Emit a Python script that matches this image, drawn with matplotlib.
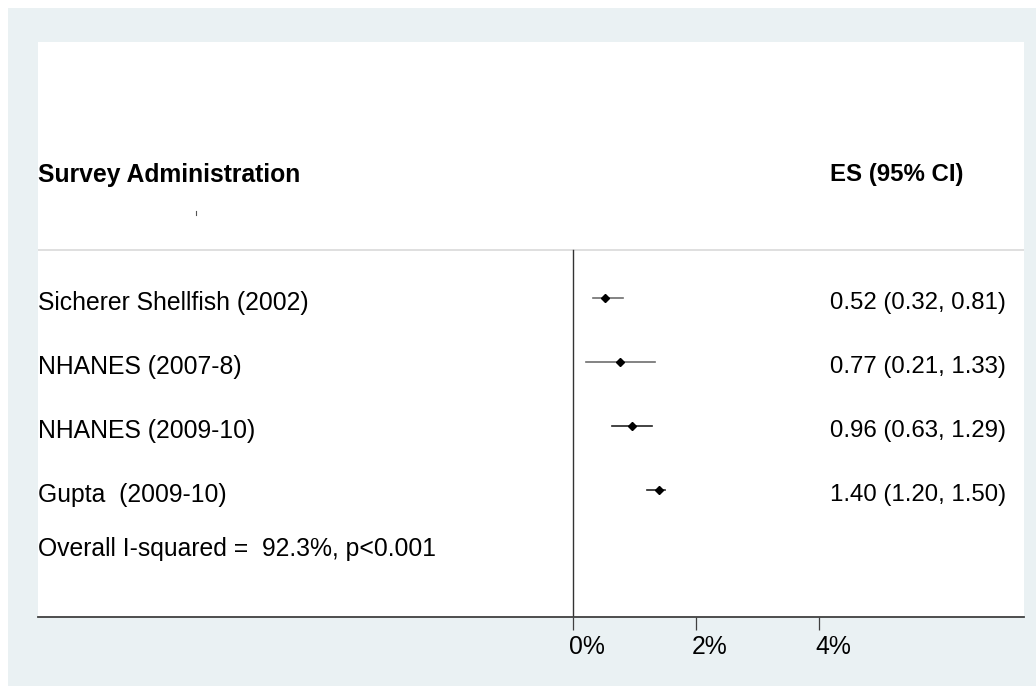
import matplotlib
matplotlib.use("Agg")
import matplotlib.pyplot as plt
from matplotlib.patches import Rectangle
from matplotlib.transforms import ScaledTranslation

studies = ["Sicherer Shellfish (2002)", "NHANES (2007-8)", "NHANES (2009-10)", "Gupta  (2009-10)"]
es = [0.52, 0.77, 0.96, 1.40]
lo = [0.32, 0.21, 0.63, 1.20]
hi = [0.81, 1.33, 1.29, 1.50]
ci_labels = ["0.52 (0.32, 0.81)", "0.77 (0.21, 1.33)", "0.96 (0.63, 1.29)", "1.40 (1.20, 1.50)"]
overall_text = "Overall I-squared =  92.3%, p<0.001"
xticks = [0, 2, 4]
xticklabels = ["0%", "2%", "4%"]

W, H = 1036, 686
fig = plt.figure(figsize=(W / 100, H / 100), dpi=100)
fig.patch.set_facecolor("white")
bg = "#EAF1F3"
fig.add_artist(Rectangle((8 / W, 0), 1 - 8 / W, 1 - 8 / H, transform=fig.transFigure,
                         facecolor=bg, edgecolor="none", zorder=0))

ax_left, ax_right, ax_top, ax_bot = 38, 1024, 42, 617
ax = fig.add_axes([ax_left / W, 1 - ax_bot / H, (ax_right - ax_left) / W, (ax_bot - ax_top) / H])
ax.set_facecolor("white")
ax.set_zorder(1)

px_per_unit = 61.5
x0 = 573
ax.set_xlim((ax_left - x0) / px_per_unit, (ax_right - x0) / px_per_unit)
row_px = 64
y0 = 298
ax.set_ylim((ax_bot - y0) / row_px, (ax_top - y0) / row_px)

fs = 17.8
fs_r = 17.3
font = "Liberation Sans"
for s in ["top", "right", "left"]:
    ax.spines[s].set_visible(False)
ax.spines["bottom"].set_color("#404040")
ax.spines["bottom"].set_linewidth(1.3)
ax.set_yticks([])
ax.set_xticks(xticks)
ax.set_xticklabels(xticklabels, fontsize=fs, family=font, ha="left")
ax.tick_params(axis="x", length=9, width=0.9, color="#404040", pad=4)
offset = ScaledTranslation(-4 / 100, 0, fig.dpi_scale_trans)
for lbl in ax.get_xticklabels():
    lbl.set_transform(lbl.get_transform() + offset)

ybot = (ax_bot - y0) / row_px
ax.axhline(-0.75, color="#D9D9D9", lw=1.2)
ax.plot([0, 0], [-0.75, ybot], color="#333333", lw=1.0)
ax.plot([(196 - x0) / px_per_unit] * 2, [(211 - y0) / row_px, (215 - y0) / row_px], color="#555555", lw=0.8)

xl = (ax_left - x0) / px_per_unit
xr = (830 - x0) / px_per_unit
ax.text(xl, (175 - y0) / row_px, "Survey Administration", fontsize=fs, fontweight="bold",
        family=font, va="center", ha="left")
ax.text(xr, (175 - y0) / row_px, "ES (95% CI)", fontsize=fs_r, fontweight="bold",
        family=font, va="center", ha="left")

text_dy = 5 / row_px
line_colors = ["#6E6E6E", "#6E6E6E", "#222222", "#222222"]
for i, (name, e, l, h, lab) in enumerate(zip(studies, es, lo, hi, ci_labels)):
    ax.plot([l, h], [i, i], color=line_colors[i], lw=1.2)
    ax.plot([e], [i], marker="D", ms=4, color="black")
    ax.text(xl, i + text_dy, name, fontsize=fs, family=font, va="center", ha="left")
    ax.text(xr, i + text_dy, lab, fontsize=fs_r, family=font, va="center", ha="left")

ax.text(xl, (549 - y0) / row_px, overall_text, fontsize=fs, family=font, va="center", ha="left")

fig.savefig("out.png", dpi=100, facecolor=fig.get_facecolor())
